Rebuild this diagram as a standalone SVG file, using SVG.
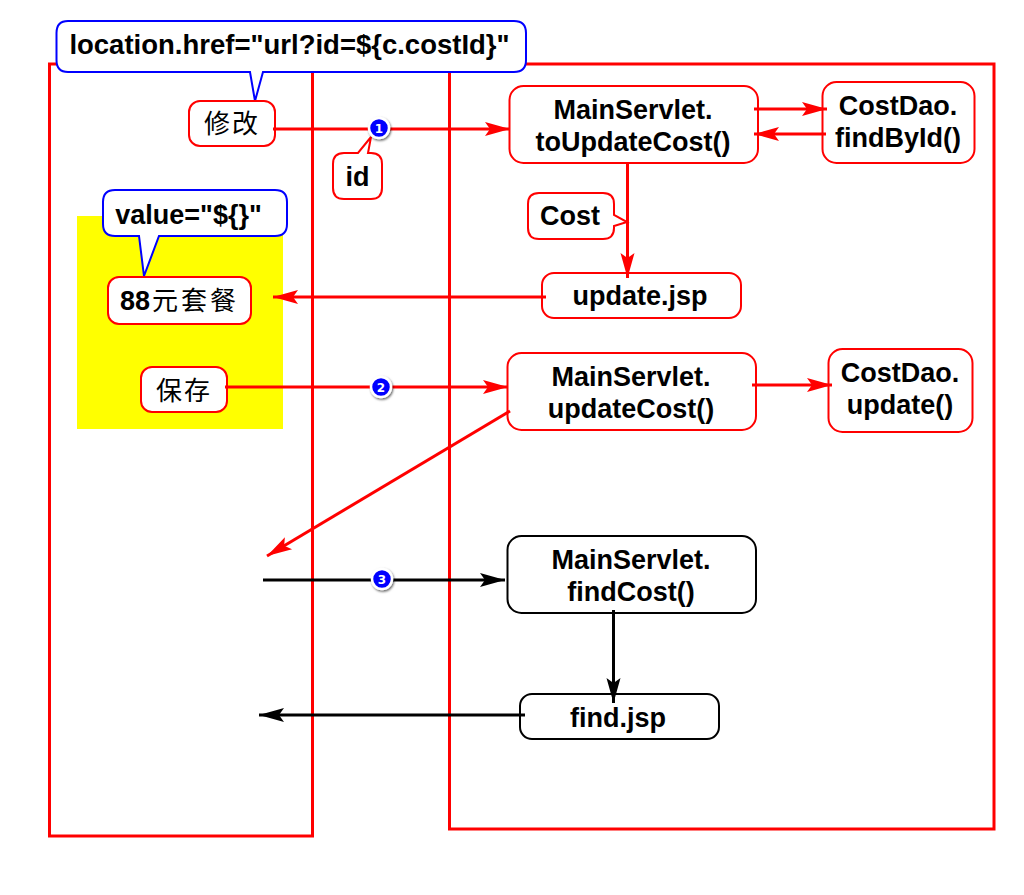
<svg xmlns="http://www.w3.org/2000/svg" width="1024" height="895" viewBox="0 0 1024 895">
<style>
.frame{fill:none;stroke:#f00;stroke-width:3}
.n{fill:#fff;stroke:#f00;stroke-width:2}
.k{fill:#fff;stroke:#000;stroke-width:2}
.b{fill:#fff;stroke:#00f;stroke-width:2}
.t{font-family:"Liberation Sans",Arial,sans-serif;font-weight:700;font-size:27px;fill:#000;text-anchor:middle}
.c{font-family:"Noto Sans CJK SC","Noto Sans CJK JP",sans-serif;font-weight:400;font-size:26px;fill:#000;letter-spacing:2px}
.r{fill:none;stroke:#f00;stroke-width:3}
.s{fill:none;stroke:#000;stroke-width:3}
.badge{fill:#00f;stroke:#fff;stroke-width:2.5;filter:url(#sh)}
.num{font-family:"DejaVu Sans",sans-serif;font-weight:700;font-size:12px;fill:#fff;text-anchor:middle}
</style>
<defs>
<filter id="sh" x="-50%" y="-50%" width="200%" height="200%"><feDropShadow dx="1" dy="1.5" stdDeviation="1.2" flood-color="#000" flood-opacity="0.6"/></filter>
<marker id="ar" markerUnits="userSpaceOnUse" markerWidth="28" markerHeight="18" refX="25" refY="9" orient="auto"><path d="M0 2L25 9L0 16L5 9Z" fill="#f00"/></marker>
<marker id="ak" markerUnits="userSpaceOnUse" markerWidth="28" markerHeight="18" refX="25" refY="9" orient="auto"><path d="M0 2L25 9L0 16L5 9Z" fill="#000"/></marker>
</defs>
<rect width="1024" height="895" fill="#fff"/>
<g id="frames">
<rect class="frame" x="49.5" y="64" width="263" height="772"/>
<rect class="frame" x="449.5" y="64" width="544.5" height="765"/>
<rect x="77" y="216" width="206" height="213" fill="#ff0"/>
</g>
<g id="node-callout-location">
<path class="b" d="M68 21H514Q526 21 526 33V60Q526 72 514 72H263L255 101L250 72H68Q56.500 72 56.500 60V33Q56.500 21 68 21Z"/>
<text class="t" x="289.500" y="54" style="font-size:27.500px">location.href="url?id=${c.costId}"</text>
</g>
<g id="node-update-link">
<rect class="n" x="189" y="101" width="86" height="45" rx="11"/>
<text class="c" x="204" y="133">修改</text>
</g>
<g id="node-callout-id">
<path class="n" d="M344 153H358L371 137L368 153H371Q382 153 382 164V188Q382 199 371 199H344Q333 199 333 188V164Q333 153 344 153Z"/>
<text class="t" x="357.500" y="186">id</text>
</g>
<g id="node-callout-value">
<path class="b" d="M115 190H275Q287 190 287 202V224Q287 236 275 236H159L144 276L139 236H115Q103 236 103 224V202Q103 190 115 190Z"/>
<text class="t" x="188.500" y="224">value="${}"</text>
</g>
<g id="node-88">
<rect class="n" x="108" y="277" width="143" height="47" rx="11"/>
<text class="t" x="120" y="310" style="text-anchor:start">88</text>
<text class="c" x="152" y="310" style="letter-spacing:3px">元套餐</text>
</g>
<g id="node-save">
<rect class="n" x="141" y="367" width="86" height="45" rx="11"/>
<text class="c" x="156" y="400">保存</text>
</g>
<g id="node-toUpdateCost">
<rect class="n" x="509.500" y="86" width="248.500" height="77" rx="14"/>
<text class="t" x="633" y="119">MainServlet.</text>
<text class="t" x="633" y="151">toUpdateCost()</text>
</g>
<g id="node-findById">
<rect class="n" x="822.500" y="82" width="152" height="81" rx="14"/>
<text class="t" x="898" y="115">CostDao.</text>
<text class="t" x="898" y="147">findById()</text>
</g>
<g id="node-callout-cost">
<path class="n" d="M539 193H603Q614 193 614 204V215L627 222L614 226V228Q614 239 603 239H539Q528 239 528 228V204Q528 193 539 193Z"/>
<text class="t" x="570" y="225">Cost</text>
</g>
<g id="node-update-jsp">
<rect class="n" x="542" y="273" width="199" height="45" rx="12"/>
<text class="t" x="640" y="305">update.jsp</text>
</g>
<g id="node-updateCost">
<rect class="n" x="507.500" y="353" width="248.500" height="77" rx="14"/>
<text class="t" x="631" y="386">MainServlet.</text>
<text class="t" x="631" y="418">updateCost()</text>
</g>
<g id="node-dao-update">
<rect class="n" x="828.500" y="349" width="144" height="83" rx="14"/>
<text class="t" x="900" y="382">CostDao.</text>
<text class="t" x="900" y="414">update()</text>
</g>
<g id="node-findCost">
<rect class="k" x="507.500" y="536" width="248.500" height="77" rx="14"/>
<text class="t" x="631" y="569">MainServlet.</text>
<text class="t" x="631" y="601">findCost()</text>
</g>
<g id="node-find-jsp">
<rect class="k" x="520" y="694" width="199" height="45" rx="12"/>
<text class="t" x="618" y="727">find.jsp</text>
</g>
<g id="connectors">
<path class="r" d="M273 129H510" marker-end="url(#ar)"/>
<path class="r" d="M754 109H827" marker-end="url(#ar)"/>
<path class="r" d="M826 134H754" marker-end="url(#ar)"/>
<path class="r" d="M627.500 163V278" marker-end="url(#ar)"/>
<path class="r" d="M546 297H273" marker-end="url(#ar)"/>
<path class="r" d="M225 387H508" marker-end="url(#ar)"/>
<path class="r" d="M752 385H832" marker-end="url(#ar)"/>
<path class="r" d="M510 411L267 556" marker-end="url(#ar)"/>
<path class="s" d="M263 580H505" marker-end="url(#ak)"/>
<path class="s" d="M613.500 610V703" marker-end="url(#ak)"/>
<path class="s" d="M525 715H259" marker-end="url(#ak)"/>
</g>
<g id="badges">
<circle class="badge" cx="379" cy="128" r="10"/><text class="num" x="379" y="132.500">1</text>
<circle class="badge" cx="381" cy="387" r="10"/><text class="num" x="381" y="391.500">2</text>
<circle class="badge" cx="382" cy="579" r="10"/><text class="num" x="382" y="583.500">3</text>
</g>
</svg>
